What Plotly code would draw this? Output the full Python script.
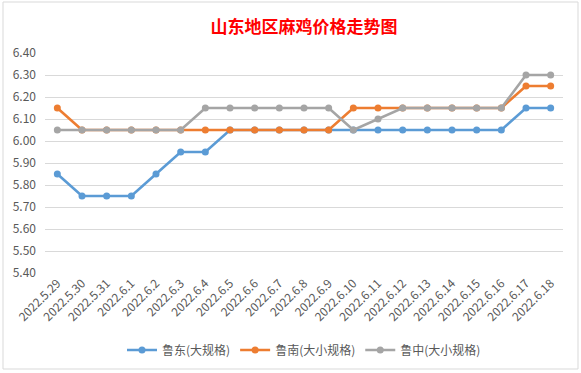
import plotly.graph_objects as go

dates = ["2022.5.29", "2022.5.30", "2022.5.31", "2022.6.1", "2022.6.2", "2022.6.3",
         "2022.6.4", "2022.6.5", "2022.6.6", "2022.6.7", "2022.6.8", "2022.6.9",
         "2022.6.10", "2022.6.11", "2022.6.12", "2022.6.13", "2022.6.14", "2022.6.15",
         "2022.6.16", "2022.6.17", "2022.6.18"]

ludong = [5.85, 5.75, 5.75, 5.75, 5.85, 5.95, 5.95, 6.05, 6.05, 6.05, 6.05, 6.05,
          6.05, 6.05, 6.05, 6.05, 6.05, 6.05, 6.05, 6.15, 6.15]
lunan = [6.15, 6.05, 6.05, 6.05, 6.05, 6.05, 6.05, 6.05, 6.05, 6.05, 6.05, 6.05,
         6.15, 6.15, 6.15, 6.15, 6.15, 6.15, 6.15, 6.25, 6.25]
luzhong = [6.05, 6.05, 6.05, 6.05, 6.05, 6.05, 6.15, 6.15, 6.15, 6.15, 6.15, 6.15,
           6.05, 6.10, 6.15, 6.15, 6.15, 6.15, 6.15, 6.30, 6.30]

names = ["鲁东(大规格)", "鲁南(大小规格)", "鲁中(大小规格)"]
colors = ["#5B9BD5", "#ED7D31", "#A5A5A5"]
series = [ludong, lunan, luzhong]

fig = go.Figure()
for name, vals, c in zip(names, series, colors):
    fig.add_trace(go.Scatter(
        x=dates, y=vals, name=name, mode="lines+markers",
        line=dict(color=c, width=2.6),
        marker=dict(color=c, size=7),
    ))

font_family = "Noto Sans CJK SC, Microsoft YaHei, sans-serif"

fig.update_layout(
    width=581, height=373,
    margin=dict(l=45, r=18, t=53, b=100, autoexpand=False),
    paper_bgcolor="white", plot_bgcolor="white",
    font=dict(family=font_family, color="#595959", size=12),
    title=dict(text="<b>山东地区麻鸡价格走势图</b>", x=0.5, xanchor="center",
               xref="paper", yref="container",
               y=1 - 27 / 373, yanchor="middle",
               font=dict(color="#FF0000", size=17, family=font_family)),
    showlegend=True,
    legend=dict(orientation="h", x=0.5, xanchor="center", y=-77 / 220, yanchor="middle",
                font=dict(size=12, color="#595959"),
                tracegroupgap=0),
    xaxis=dict(type="category", tickangle=-45, showgrid=False, showline=False,
               automargin=False,
               ticks="", range=[-0.5, 20.5], tickfont=dict(size=12, color="#595959")),
    yaxis=dict(range=[5.40, 6.40], dtick=0.1, tick0=5.40, tickformat=".2f",
               automargin=False,
               showgrid=True, gridcolor="#D9D9D9", gridwidth=1, zeroline=False,
               showline=False, ticks="", ticklabelstandoff=8,
               tickfont=dict(size=12, color="#595959")),
    shapes=[dict(type="rect", xref="paper", yref="paper",
                 x0=-42 / 518, x1=1 + 15 / 518, y0=-96 / 220, y1=1 + 51 / 220,
                 line=dict(color="#D9D9D9", width=1), fillcolor="rgba(0,0,0,0)")],
)

fig.write_html("out.html",
               config={"displayModeBar": False},
               post_script="document.body.style.margin='0';document.body.style.overflow='hidden';")
